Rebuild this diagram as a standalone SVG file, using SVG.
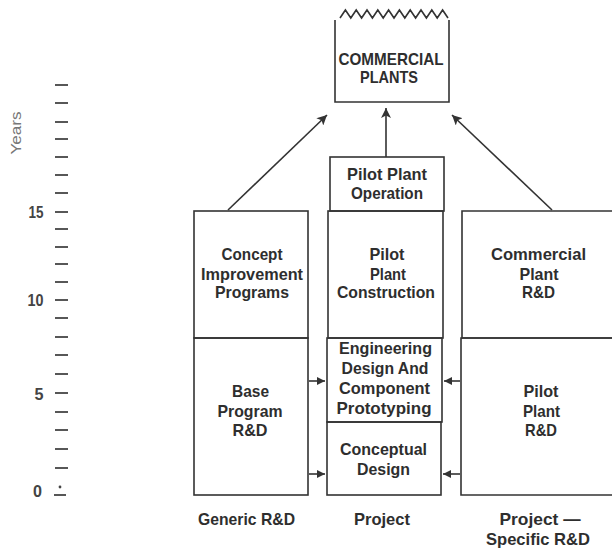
<svg xmlns="http://www.w3.org/2000/svg" width="612" height="550" viewBox="0 0 612 550">
<style>
.box{fill:none;stroke:#333;stroke-width:1.6}
.ln{fill:none;stroke:#333;stroke-width:1.6}
.t{font-family:"Liberation Sans",Arial,sans-serif;font-weight:bold;font-size:17px;fill:#2e2e2e;text-anchor:middle}
.ax{font-family:"Liberation Sans",Arial,sans-serif;font-weight:bold;font-size:17px;fill:#444;text-anchor:end}
.tick{stroke:#444;stroke-width:1.8}
</style>
<defs>
<marker id="ah" viewBox="0 0 10 10" refX="10" refY="5" markerWidth="10" markerHeight="10" markerUnits="userSpaceOnUse" orient="auto">
<path d="M0,0 L10,5 L0,10 L2.5,5 z" fill="#333"/>
</marker>
<marker id="ahs" viewBox="0 0 10 10" refX="10" refY="5" markerWidth="8" markerHeight="8" markerUnits="userSpaceOnUse" orient="auto">
<path d="M0,0 L10,5 L0,10 z" fill="#333"/>
</marker>
</defs>
<rect width="612" height="550" fill="#fff"/>

<g id="axis">
<text x="21" y="133" transform="rotate(-90 21 133)" style="font-family:'Liberation Sans',Arial,sans-serif;font-size:15px;fill:#777;text-anchor:middle" textLength="43" lengthAdjust="spacingAndGlyphs">Years</text>
<g class="tick">
<line x1="55" y1="85" x2="68" y2="85"/><line x1="55" y1="103" x2="68" y2="103"/>
<line x1="55" y1="122" x2="68" y2="122"/><line x1="55" y1="139" x2="68" y2="139"/>
<line x1="55" y1="157" x2="68" y2="157"/><line x1="55" y1="175" x2="68" y2="175"/>
<line x1="55" y1="193" x2="68" y2="193"/><line x1="55" y1="212" x2="68" y2="212"/>
<line x1="55" y1="229" x2="68" y2="229"/><line x1="55" y1="247" x2="68" y2="247"/>
<line x1="55" y1="264" x2="68" y2="264"/><line x1="55" y1="282" x2="68" y2="282"/>
<line x1="55" y1="300" x2="68" y2="300"/><line x1="55" y1="318" x2="68" y2="318"/>
<line x1="55" y1="337" x2="68" y2="337"/><line x1="55" y1="355" x2="68" y2="355"/>
<line x1="55" y1="374" x2="68" y2="374"/><line x1="55" y1="393" x2="68" y2="393"/>
<line x1="55" y1="412" x2="68" y2="412"/><line x1="55" y1="430" x2="68" y2="430"/>
<line x1="55" y1="449" x2="68" y2="449"/><line x1="55" y1="468" x2="68" y2="468"/>
<line x1="54" y1="495" x2="66" y2="495"/>
</g>
<circle cx="60" cy="487" r="1.4" fill="#444"/>
<text class="ax" x="43.5" y="218" textLength="15" lengthAdjust="spacingAndGlyphs">15</text>
<text class="ax" x="43.5" y="306" textLength="16" lengthAdjust="spacingAndGlyphs">10</text>
<text class="ax" x="43.5" y="400" textLength="9" lengthAdjust="spacingAndGlyphs">5</text>
<text class="ax" x="42" y="497" textLength="9" lengthAdjust="spacingAndGlyphs">0</text>
</g>

<g id="commercial-plants">
<path class="box" d="M335,20 V102 H449 V20"/>
<polyline class="ln" stroke-width="1.3" points="340,18 345.4,10 350.8,18 356.2,10 361.6,18 367,10 372.4,18 377.8,10 383.2,18 388.6,10 394,18 399.4,10 404.8,18 410.2,10 415.6,18 421,10 426.4,18 431.8,10 437.2,18 442.6,10 448,18"/>
<text class="t" x="391" y="65" textLength="105" lengthAdjust="spacingAndGlyphs">COMMERCIAL</text>
<text class="t" x="389" y="83" textLength="58" lengthAdjust="spacingAndGlyphs">PLANTS</text>
</g>

<g id="pilot-plant-operation">
<rect class="box" x="330" y="157" width="114" height="54"/>
<text class="t" x="387" y="180" textLength="80" lengthAdjust="spacingAndGlyphs">Pilot Plant</text>
<text class="t" x="387" y="199" textLength="72" lengthAdjust="spacingAndGlyphs">Operation</text>
</g>

<g id="concept-improvement-programs">
<rect class="box" x="194" y="211" width="114" height="127"/>
<text class="t" x="252" y="260" textLength="61" lengthAdjust="spacingAndGlyphs">Concept</text>
<text class="t" x="252" y="280" textLength="102" lengthAdjust="spacingAndGlyphs">Improvement</text>
<text class="t" x="252" y="298" textLength="74" lengthAdjust="spacingAndGlyphs">Programs</text>
</g>

<g id="base-program-rd">
<rect class="box" x="194" y="338" width="114" height="157"/>
<text class="t" x="250.5" y="397" textLength="37" lengthAdjust="spacingAndGlyphs">Base</text>
<text class="t" x="250" y="417" textLength="65" lengthAdjust="spacingAndGlyphs">Program</text>
<text class="t" x="250" y="436" textLength="35" lengthAdjust="spacingAndGlyphs">R&amp;D</text>
</g>

<g id="pilot-plant-construction">
<rect class="box" x="328" y="211" width="115" height="127"/>
<text class="t" x="387" y="260" textLength="35" lengthAdjust="spacingAndGlyphs">Pilot</text>
<text class="t" x="388" y="280" textLength="36" lengthAdjust="spacingAndGlyphs">Plant</text>
<text class="t" x="386" y="298" textLength="98" lengthAdjust="spacingAndGlyphs">Construction</text>
</g>

<g id="engineering-design">
<rect class="box" x="327" y="338" width="115" height="84"/>
<text class="t" x="385.5" y="354" textLength="93" lengthAdjust="spacingAndGlyphs">Engineering</text>
<text class="t" x="385" y="374" textLength="87" lengthAdjust="spacingAndGlyphs">Design And</text>
<text class="t" x="384.5" y="394" textLength="91" lengthAdjust="spacingAndGlyphs">Component</text>
<text class="t" x="384" y="414" textLength="95" lengthAdjust="spacingAndGlyphs">Prototyping</text>
</g>

<g id="conceptual-design">
<rect class="box" x="327" y="422" width="114" height="73"/>
<text class="t" x="383.5" y="455" textLength="87" lengthAdjust="spacingAndGlyphs">Conceptual</text>
<text class="t" x="383.5" y="475" textLength="53" lengthAdjust="spacingAndGlyphs">Design</text>
</g>

<g id="commercial-plant-rd">
<path class="box" d="M612,211 H462 V338 H612"/>
<text class="t" x="538.5" y="260" textLength="95" lengthAdjust="spacingAndGlyphs">Commercial</text>
<text class="t" x="539" y="280" textLength="39" lengthAdjust="spacingAndGlyphs">Plant</text>
<text class="t" x="538.5" y="298" textLength="33" lengthAdjust="spacingAndGlyphs">R&amp;D</text>
</g>

<g id="pilot-plant-rd">
<path class="box" d="M612,338 H461 V495 H612"/>
<text class="t" x="541" y="397" textLength="35" lengthAdjust="spacingAndGlyphs">Pilot</text>
<text class="t" x="541.5" y="417" textLength="37" lengthAdjust="spacingAndGlyphs">Plant</text>
<text class="t" x="541" y="436" textLength="32" lengthAdjust="spacingAndGlyphs">R&amp;D</text>
</g>

<g id="column-labels">
<text class="t" x="246.5" y="525" textLength="97" lengthAdjust="spacingAndGlyphs">Generic R&amp;D</text>
<text class="t" x="382" y="525" textLength="56" lengthAdjust="spacingAndGlyphs">Project</text>
<text class="t" x="540" y="525" textLength="81" lengthAdjust="spacingAndGlyphs">Project —</text>
<text class="t" x="538" y="545" textLength="104" lengthAdjust="spacingAndGlyphs">Specific R&amp;D</text>
</g>

<g id="connectors">
<line class="ln" x1="228" y1="210" x2="327" y2="115" marker-end="url(#ah)"/>
<line class="ln" x1="386" y1="157" x2="386" y2="108" marker-end="url(#ah)"/>
<line class="ln" x1="552" y1="210" x2="452" y2="115" marker-end="url(#ah)"/>
<line class="ln" x1="309" y1="381" x2="325" y2="381" marker-end="url(#ahs)"/>
<line class="ln" x1="309" y1="474" x2="325" y2="474" marker-end="url(#ahs)"/>
<line class="ln" x1="460" y1="381" x2="444" y2="381" marker-end="url(#ahs)"/>
<line class="ln" x1="460" y1="474" x2="443" y2="474" marker-end="url(#ahs)"/>
</g>
</svg>
